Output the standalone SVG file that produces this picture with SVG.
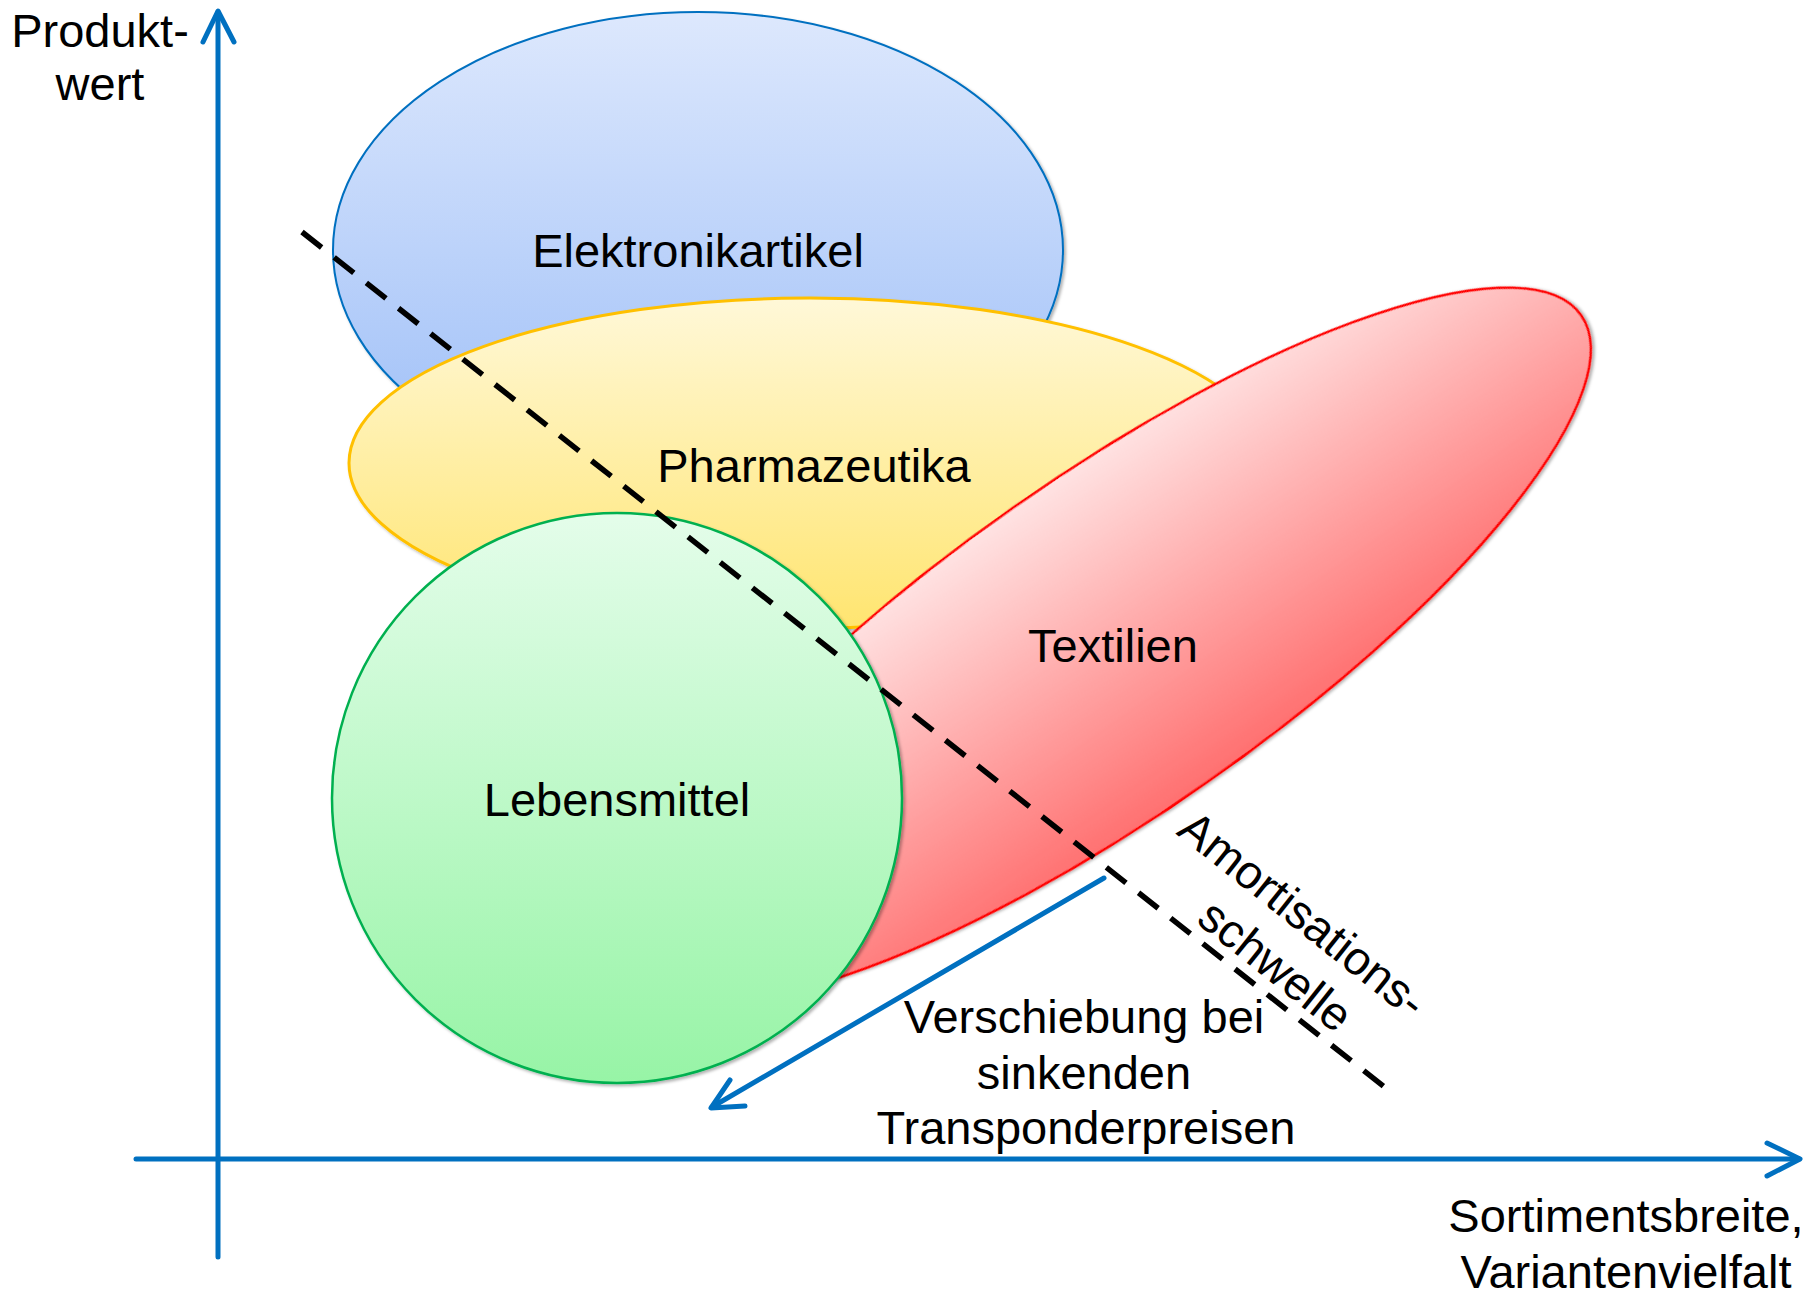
<svg xmlns="http://www.w3.org/2000/svg" width="1820" height="1295" viewBox="0 0 1820 1295">
  <defs>
    <linearGradient id="gBlue" x1="0" y1="0" x2="0" y2="1">
      <stop offset="0" stop-color="#DDE8FD"/>
      <stop offset="1" stop-color="#9BBDF7"/>
    </linearGradient>
    <linearGradient id="gYellow" x1="0" y1="0" x2="0" y2="1">
      <stop offset="0" stop-color="#FFF8D8"/>
      <stop offset="1" stop-color="#FFE570"/>
    </linearGradient>
    <linearGradient id="gRed" x1="0" y1="0" x2="0" y2="1">
      <stop offset="0" stop-color="#FFE3E3"/>
      <stop offset="1" stop-color="#FF7070"/>
    </linearGradient>
    <linearGradient id="gGreen" x1="0" y1="0" x2="0" y2="1">
      <stop offset="0" stop-color="#E4FDEA"/>
      <stop offset="1" stop-color="#97F4A6"/>
    </linearGradient>
    <filter id="shadow" x="-5%" y="-5%" width="110%" height="110%">
      <feDropShadow dx="2" dy="2" stdDeviation="1.5" flood-color="#000" flood-opacity="0.3"/>
    </filter>
  </defs>
  <style>
    .lbl { font-family: "Liberation Sans", Arial, sans-serif; font-size: 47px; fill: #000; }
    .mid { text-anchor: middle; }
    .axis { fill: none; stroke: #0070C0; stroke-width: 5; stroke-linecap: round; stroke-linejoin: round; }
    .shape { filter: url(#shadow); }
  </style>

  <rect width="1820" height="1295" fill="#FFFFFF"/>

  <!-- category regions, back to front -->
  <g id="node-elektronikartikel">
    <ellipse class="shape" cx="698" cy="250" rx="365" ry="238" fill="url(#gBlue)" stroke="#0070C0" stroke-width="2"/>
    <text class="lbl mid" x="698" y="267">Elektronikartikel</text>
  </g>

  <g id="node-pharmazeutika">
    <ellipse class="shape" cx="810" cy="463" rx="461" ry="165" fill="url(#gYellow)" stroke="#FFC000" stroke-width="3"/>
    <text class="lbl mid" x="814" y="482">Pharmazeutika</text>
  </g>

  <g id="node-textilien">
    <ellipse class="shape" cx="0" cy="0" rx="575" ry="168" transform="translate(1110,645) rotate(-35)" fill="url(#gRed)" stroke="#FF0000" stroke-width="2.5"/>
    <text class="lbl mid" x="1113" y="662">Textilien</text>
  </g>

  <g id="node-lebensmittel">
    <circle class="shape" cx="617" cy="798" r="285" fill="url(#gGreen)" stroke="#00B050" stroke-width="2.5"/>
    <text class="lbl mid" x="617" y="816">Lebensmittel</text>
  </g>

  <!-- axes -->
  <g id="axes">
    <line class="axis" x1="218" y1="1257" x2="218" y2="12"/>
    <polyline class="axis" points="203,42 218,11 234,42"/>
    <line class="axis" x1="136" y1="1159" x2="1799" y2="1159"/>
    <polyline class="axis" points="1767,1143 1800,1159 1767,1176"/>
    <text class="lbl mid" x="100" y="47">Produkt-</text>
    <text class="lbl mid" x="100" y="100">wert</text>
    <text class="lbl mid" x="1626" y="1232">Sortimentsbreite,</text>
    <text class="lbl mid" x="1626" y="1288">Variantenvielfalt</text>
  </g>

  <!-- connectors: threshold line and shift arrow -->
  <g id="connectors">
    <line x1="302" y1="232" x2="1387" y2="1089" stroke="#000" stroke-width="5.5" stroke-dasharray="25 16"/>
    <line x1="1104" y1="878" x2="712" y2="1107" stroke="#0070C0" stroke-width="5" stroke-linecap="round"/>
    <polyline points="730,1080 711,1108 745,1106" fill="none" stroke="#0070C0" stroke-width="5" stroke-linecap="round" stroke-linejoin="round"/>
  </g>

  <g id="label-amortisationsschwelle">
    <text class="lbl mid" transform="translate(1298,931) rotate(38.5)">
      <tspan x="0" y="0">Amortisations-</tspan>
      <tspan x="4" y="57">schwelle</tspan>
    </text>
  </g>

  <g id="label-verschiebung">
    <text class="lbl mid" x="1084" y="1033">Verschiebung bei</text>
    <text class="lbl mid" x="1084" y="1089">sinkenden</text>
    <text class="lbl mid" x="1086" y="1144">Transponderpreisen</text>
  </g>
</svg>
